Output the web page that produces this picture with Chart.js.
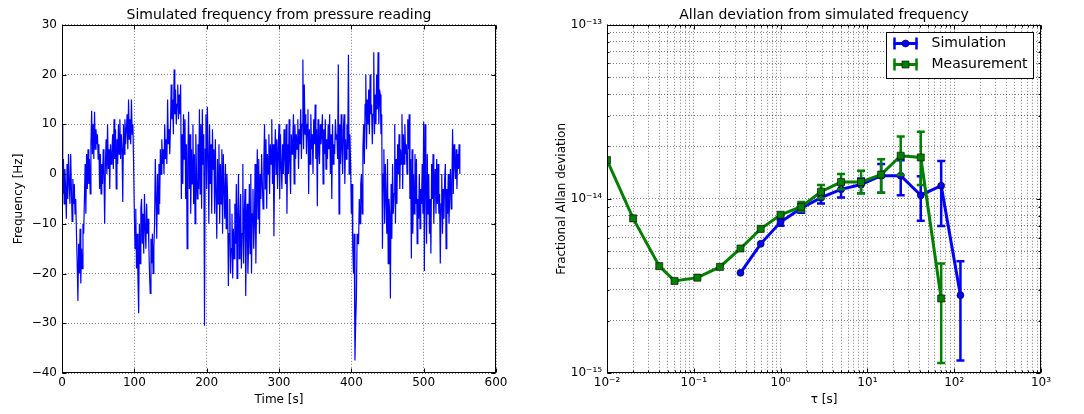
<!DOCTYPE html>
<html>
<head>
<meta charset="utf-8">
<script src="https://cdn.jsdelivr.net/npm/chart.js@4.4.0/dist/chart.umd.min.js"></script>
<style>
  html, body { margin: 0; padding: 0; background: #fff; }
  #wrap { position: relative; width: 1084px; height: 414px; }
  .box { position: absolute; top: 0; width: 542px; height: 414px; }
  #left { left: 0; }
  #right { left: 542px; }
</style>
</head>
<body>
<div id="wrap">
  <div class="box" id="left"><canvas id="freqChart" width="542" height="414"></canvas></div>
  <div class="box" id="right"><canvas id="allanChart" width="542" height="414"></canvas></div>
</div>
<script>
// left panel: simulated frequency, one value per second (10 per row)
const sampleStep = 1;
const freqHz = [
  10, -4, 3, -6, 1, -3, -9, 2, -5, 4,
  -2, -6, 4, -3, -9.5, -1, -6, -2, -8, -5,
  -12, -18, -25.5, -14, -20, -11, -22, -15, -19, -10,
  -12, -5, 2, -8, 4, -3, 5, -2, 3, -4,
  6, 12.7, 4, 10, 3, 12.5, 5, 9, 6, 8,
  3, 6, -3, 4, -4, 2, -2, 5, 0, -10,
  2, 7, 0, 10, 1, 5, -3, 6, 2, 4,
  8, 1, 11, 3, 9, -3, 7, 2, 10, 4,
  11, 3, 8, 5, -5.6, 10, 4, 11, 6, 9,
  12, 5, 15, 7, 11, 6, 15, 8, 10, 2,
  -8, -15, -7, -19, -12, -21, -28, -10, -18, -7,
  -5, -14, -8, -16, -4, -11, -15, -6, -12, -9,
  -14, -20, -24, -13, -18, -12, -20, -15, -10, 3,
  -5, -13, 0, -8, 2, -6, 5, 0, 7, 2,
  5, 0, 10, 3, 7, 2, 15, 6, 9, 4,
  10, 18, 11, 15, 8, 21, 12, 17, 10, 14,
  18, 11, 16, 12, 18, -5, 8, -2, 12, 3,
  11, -5, 6, -15, 3, 12.5, -3, 8, -8, 5,
  -2, 10, -6, 4, -10, 8, 0, -5, 6, -3,
  13, -4, 10, -7, 13, 2, 8, -30.5, 5, 12,
  -3, 13.5, 4, -10, 10, -2, 6, -8, 9, 1,
  5, -8, 7, -4, -13, 3, -6, 6, -10, 2,
  -6, 5, -12, 4, -3, -9, 2, -11, 0, -5,
  -22.5, -12, -5, -20, -15, -8, -21, -11, -17, -6,
  -14, -2, -21, -8, 0, -17, -10, -4, -19, -12,
  2, -18, -8, -3, -24.5, -11, -6, -20, -14, -2,
  -16, 0, -20, -8, -3, -15, -10, 2, -18, -6,
  5, -9, 3, -12, 0, -5, 4, -2, -7, 2,
  10, -3, 7, -7, 4, 0, 8, -4, 6, 2,
  11, -2, 6, -12.5, 3, 9, 0, 7, -3, 5,
  10, -5, 8, 2, -3, 6, 0, 9, 3, -2,
  10, -8, 6, 0, 11, 2, -4, 8, 4, 7,
  12, -2, 10, 3, 8, 5, 11, 1, 9, 6,
  13, 3, 10, 23, 5, 18, 8, 12, 4, 10,
  13, -4, 9, 2, 12, 5, 8, 0, 11, 6,
  14, 3, 9, -6.5, 11, 5, 2, 10, 6, 8,
  12, -2, 9, 4, 11, 1, 7, 3, 10, 5,
  12, 0, 8, -5, 10, 2, 6, 4, 11, 7,
  8, 3, 22, -8, 10, 2, 12, 5, 0, 9,
  12, -2, 7, 3, 10, 5, 24, 0, 8, 2,
  -8, -2, -15, -20, -12, -37.5, -30, -25, -12, -14,
  -14, -5, -10, -2, 0, -8, 5, 10, 2, 14,
  20, 5, 15, 10, 17, 8, 20, 12, 14, 6,
  12, 24.5, 8, 16, 10, 20, 13, 24.5, 10, 17,
  16, 8, 12, -15, 0, 5, -10, 2, -5, -12,
  3, -18, -5, -8, -25, -2, -13, 2, -8, -4,
  10, -10, 3, -6, 6, 0, 8, -3, 5, 2,
  12, -3, 8, 2, 10, 4, 6, 0, 11, 5,
  12, -5, 3, -17, 5, -12, 0, -8, 4, -6,
  3, -14, -5, -9, 0, -11, -3, -6, 2, -8,
  10.5, -19.5, 10, -2, -14, 4, -8, 0, -12, -5,
  -16, 2, -5, 4, -10, -3, 1, -8, 3, -6,
  2, -8, -4, -18, -6, 0, -12, -3, -9, -1,
  2, -15, -3, -8, 0, -10, -4, 1, -7, -2,
  9, -4, 6, 2, -1, 5, -3, 4, 1, 6,
  0
];

// right panel: Allan deviation
const tauMeas = [0.01, 0.02, 0.04, 0.06, 0.11, 0.2, 0.345, 0.59, 1.0, 1.73, 2.92, 4.97, 8.45, 14.4, 24.2, 41.2, 70.8];
const adevMeas = [1.67e-14, 7.73e-15, 4.11e-15, 3.38e-15, 3.53e-15, 4.07e-15, 5.19e-15, 6.73e-15, 8.11e-15, 9.02e-15, 1.10e-14, 1.25e-14, 1.25e-14, 1.38e-14, 1.77e-14, 1.73e-14, 2.68e-15];
const measLow = [null, null, null, null, null, null, null, null, null, 8.48e-15, 1.007e-14, 1.135e-14, 1.076e-14, 1.083e-14, 1.37e-14, 1.20e-14, 1.14e-15];
const measHigh = [null, null, null, null, null, null, null, null, null, 9.6e-15, 1.202e-14, 1.39e-14, 1.45e-14, 1.69e-14, 2.28e-14, 2.43e-14, 4.26e-15];

const tauSim = [0.345, 0.59, 1.0, 1.73, 2.92, 4.97, 8.45, 14.4, 24.2, 41.2, 70.8, 118];
const adevSim = [3.76e-15, 5.52e-15, 7.36e-15, 8.85e-15, 1.016e-14, 1.135e-14, 1.21e-14, 1.36e-14, 1.36e-14, 1.05e-14, 1.19e-14, 2.80e-15];
const simLow = [null, null, 7.0e-15, 8.32e-15, 9.42e-15, 1.02e-14, 1.076e-14, 1.083e-14, 1.05e-14, 7.48e-15, 6.98e-15, 1.18e-15];
const simHigh = [null, null, 7.7e-15, 9.33e-15, 1.084e-14, 1.216e-14, 1.31e-14, 1.585e-14, 1.67e-14, 1.35e-14, 1.65e-14, 4.38e-15];

const seriesNames = ['Simulation', 'Measurement'];
const seriesColors = ['#0000ff', '#007f00'];

Chart.defaults.font.family = "'DejaVu Sans', sans-serif";
Chart.defaults.font.size = 12;
Chart.defaults.color = '#000';

const SUP = {'-': '\u207b', '0': '\u2070', '1': '\u00b9', '2': '\u00b2', '3': '\u00b3', '4': '\u2074', '5': '\u2075', '6': '\u2076', '7': '\u2077', '8': '\u2078', '9': '\u2079'};
const sup = n => String(n).split('').map(c => SUP[c]).join('');

function isDecade(v) {
  const e = Math.log10(v);
  return Math.abs(e - Math.round(e)) < 1e-6;
}

function logTicks(e0, e1) {
  const out = [];
  for (let e = e0; e < e1; e++) {
    for (let m = 1; m < 10; m++) out.push({value: m * Math.pow(10, e)});
  }
  out.push({value: Math.pow(10, e1)});
  return out;
}

// black box round the axes plus inward tick marks, matplotlib style
const frame = {
  id: 'frame',
  afterDraw(chart, args, opts) {
    const {ctx, chartArea: a} = chart;
    const L = Math.round(a.left) + 0.5, R = Math.round(a.right) - 0.5;
    const T = Math.round(a.top) + 0.5, B = Math.round(a.bottom) - 0.5;
    ctx.save();
    ctx.strokeStyle = '#000';
    ctx.lineWidth = 1;
    ctx.beginPath();
    const xs = chart.scales.x, ys = chart.scales.y;
    xs.ticks.forEach(t => {
      const p = Math.round(xs.getPixelForValue(t.value)) + 0.5;
      const len = opts.log && !isDecade(t.value) ? 2 : 4;
      ctx.moveTo(p, B); ctx.lineTo(p, B - len);
      ctx.moveTo(p, T); ctx.lineTo(p, T + len);
    });
    ys.ticks.forEach(t => {
      const p = Math.round(ys.getPixelForValue(t.value)) + 0.5;
      const len = opts.log && !isDecade(t.value) ? 2 : 4;
      ctx.moveTo(L, p); ctx.lineTo(L + len, p);
      ctx.moveTo(R, p); ctx.lineTo(R - len, p);
    });
    ctx.stroke();
    ctx.strokeRect(L, T, R - L, B - T);
    ctx.restore();
  }
};

// vertical error bars with caps, drawn just under each dataset's line
const errorBars = {
  id: 'errorBars',
  beforeDatasetDraw(chart, args) {
    const ds = chart.data.datasets[args.index];
    if (!ds.errLow) return;
    const {ctx} = chart;
    const xs = chart.scales.x, ys = chart.scales.y;
    ctx.save();
    ctx.strokeStyle = ds.borderColor;
    ctx.lineWidth = 2.5;
    ds.data.forEach((p, i) => {
      const lo = ds.errLow[i], hi = ds.errHigh[i];
      if (lo == null) return;
      const x = xs.getPixelForValue(p.x);
      const y1 = ys.getPixelForValue(lo), y2 = ys.getPixelForValue(hi);
      ctx.beginPath();
      ctx.moveTo(x, y1); ctx.lineTo(x, y2);
      ctx.moveTo(x - 4, y1); ctx.lineTo(x + 4, y1);
      ctx.moveTo(x - 4, y2); ctx.lineTo(x + 4, y2);
      ctx.stroke();
    });
    ctx.restore();
  }
};

// boxed legend in the upper right corner
const boxLegend = {
  id: 'boxLegend',
  afterDraw(chart) {
    const {ctx, chartArea: a} = chart;
    const w = 147, h = 46;
    const x0 = Math.round(a.right - 8 - w) + 0.5, y0 = Math.round(a.top + 7) + 0.5;
    ctx.save();
    ctx.fillStyle = '#fff';
    ctx.fillRect(x0, y0, w, h);
    ctx.strokeStyle = '#000';
    ctx.lineWidth = 1;
    ctx.strokeRect(x0, y0, w, h);
    chart.data.datasets.forEach((ds, i) => {
      const y = y0 + 11 + i * 21;
      const xa = x0 + 7, xb = x0 + 31, xm = (xa + xb) / 2;
      ctx.strokeStyle = ds.borderColor;
      ctx.lineWidth = 3;
      ctx.beginPath();
      ctx.moveTo(xa, y); ctx.lineTo(xb, y);
      ctx.stroke();
      ctx.lineWidth = 2.5;
      ctx.beginPath();
      ctx.moveTo(xa + 1, y - 6); ctx.lineTo(xa + 1, y + 6);
      ctx.moveTo(xb - 1, y - 6); ctx.lineTo(xb - 1, y + 6);
      ctx.stroke();
      ctx.fillStyle = ds.backgroundColor;
      ctx.strokeStyle = 'rgba(0,0,0,0.6)';
      ctx.lineWidth = 1;
      ctx.beginPath();
      if (ds.pointStyle === 'rect') ctx.rect(xm - 3.5, y - 3.5, 7, 7);
      else ctx.arc(xm, y, 3.5, 0, Math.PI * 2);
      ctx.fill();
      ctx.stroke();
      ctx.fillStyle = '#000';
      ctx.font = "14px 'DejaVu Sans', sans-serif";
      ctx.textBaseline = 'middle';
      ctx.fillText(ds.label, x0 + 45, y);
    });
    ctx.restore();
  }
};

const dotted = { color: 'rgba(0,0,0,0.5)', lineWidth: 1, drawTicks: false };

new Chart(document.getElementById('freqChart'), {
  type: 'scatter',
  data: {
    datasets: [{
      data: freqHz.map((v, i) => ({x: i * sampleStep, y: v})),
      showLine: true,
      borderColor: '#0000ff',
      borderWidth: 1.2,
      pointRadius: 0,
      tension: 0
    }]
  },
  options: {
    responsive: false,
    animation: false,
    layout: { padding: { right: 46 } },
    plugins: {
      legend: { display: false },
      tooltip: { enabled: false },
      title: {
        display: true,
        fullSize: false,
        text: 'Simulated frequency from pressure reading',
        font: { size: 14, weight: 'normal' },
        color: '#000',
        padding: { top: 7, bottom: 1 }
      },
      frame: { log: false }
    },
    scales: {
      x: {
        type: 'linear', min: 0, max: 600,
        ticks: { stepSize: 100, padding: 3, maxRotation: 0 },
        grid: dotted,
        border: { display: false, dash: [1, 2] },
        title: { display: true, text: 'Time [s]', font: { size: 12 }, padding: { top: 0, bottom: 7 } },
        afterFit: s => { s.height = 41; }
      },
      y: {
        min: -40, max: 30,
        ticks: { stepSize: 10, padding: 5, callback: v => String(v).replace('-', '\u2212') },
        grid: dotted,
        border: { display: false, dash: [1, 2] },
        title: { display: true, text: 'Frequency [Hz]', font: { size: 12 }, padding: { top: 12, bottom: 0 } },
        afterFit: s => { s.width = 62; }
      }
    }
  },
  plugins: [frame]
});

new Chart(document.getElementById('allanChart'), {
  type: 'scatter',
  data: {
    datasets: [
      {
        label: seriesNames[0],
        data: tauSim.map((t, i) => ({x: t, y: adevSim[i]})),
        errLow: simLow, errHigh: simHigh,
        showLine: true,
        borderColor: seriesColors[0], backgroundColor: seriesColors[0],
        borderWidth: 3,
        pointStyle: 'circle', pointRadius: 3.5,
        pointBorderColor: 'rgba(0,0,0,0.6)', pointBorderWidth: 1,
        order: 2
      },
      {
        label: seriesNames[1],
        data: tauMeas.map((t, i) => ({x: t, y: adevMeas[i]})),
        errLow: measLow, errHigh: measHigh,
        showLine: true,
        borderColor: seriesColors[1], backgroundColor: seriesColors[1],
        borderWidth: 3,
        pointStyle: 'rect', pointRadius: 5,
        pointBorderColor: 'rgba(0,0,0,0.6)', pointBorderWidth: 1,
        order: 1
      }
    ]
  },
  options: {
    responsive: false,
    animation: false,
    layout: { padding: { right: 43 } },
    plugins: {
      legend: { display: false },
      tooltip: { enabled: false },
      title: {
        display: true,
        fullSize: false,
        text: 'Allan deviation from simulated frequency',
        font: { size: 14, weight: 'normal' },
        color: '#000',
        padding: { top: 7, bottom: 1 }
      },
      frame: { log: true }
    },
    scales: {
      x: {
        type: 'logarithmic', min: 0.01, max: 1000,
        afterBuildTicks: s => { s.ticks = logTicks(-2, 3); },
        ticks: { autoSkip: false, maxRotation: 0, padding: 3, callback: v => isDecade(v) ? '10' + sup(Math.round(Math.log10(v))) : '' },
        grid: dotted,
        border: { display: false, dash: [1, 2] },
        title: { display: true, text: '\u03c4 [s]', font: { size: 12 }, padding: { top: 0, bottom: 7 } },
        afterFit: s => { s.height = 41; }
      },
      y: {
        type: 'logarithmic', min: 1e-15, max: 1e-13,
        afterBuildTicks: s => { s.ticks = logTicks(-15, -13); },
        ticks: { autoSkip: false, padding: 5, callback: v => isDecade(v) ? '10' + sup(Math.round(Math.log10(v))) : '' },
        grid: dotted,
        border: { display: false, dash: [1, 2] },
        title: { display: true, text: 'Fractional Allan deviation', font: { size: 12 }, padding: { top: 13, bottom: 0 } },
        afterFit: s => { s.width = 65; }
      }
    }
  },
  plugins: [errorBars, frame, boxLegend]
});
</script>
</body>
</html>
